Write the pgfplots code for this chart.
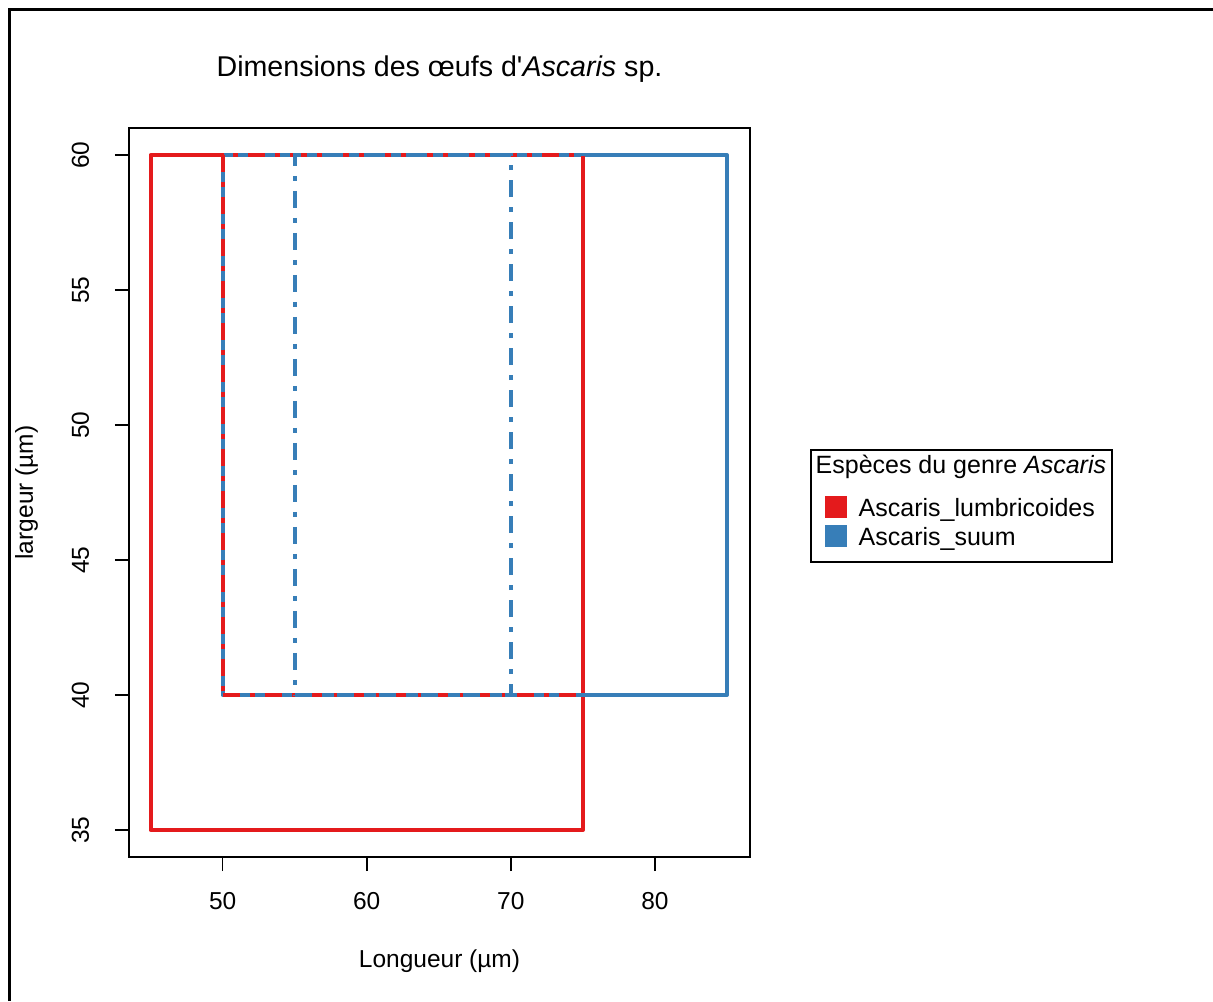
\documentclass[border=0pt]{standalone}
\usepackage{pgfplots}
\pgfplotsset{compat=1.18}
\usepackage{fontspec}
\setmainfont{Liberation Sans}
\definecolor{setred}{HTML}{E41A1C}
\definecolor{setblue}{HTML}{377EB8}
\newcommand{\basefont}{\fontsize{12.25}{14}\selectfont}
\newcommand{\legfont}{\fontsize{12.5}{14}\selectfont}
\begin{document}
\begin{tikzpicture}
\useasboundingbox (-64.5pt,-72pt) rectangle (542pt,428.5pt);
\draw[line width=1.25pt] (-59.75pt,-72pt) -- (-59.75pt,423.75pt) -- (542pt,423.75pt);
\begin{axis}[
  at={(0pt,0pt)}, anchor=south west,
  scale only axis, width=310.5pt, height=364.5pt,
  xmin=43.5, xmax=86.6, ymin=34, ymax=61,
  xtick={50,60,70,80}, ytick={35,40,45,50,55,60},
  axis line style={line width=0.9pt},
  tick align=outside, xtick pos=bottom, ytick pos=left,
  major tick length=7pt,
  every tick/.style={black, line width=0.8pt},
  /pgf/number format/assume math mode=true,
  tick label style={font=\basefont},
  xticklabel style={anchor=base},
  xticklabel shift=19pt,
  yticklabel style={rotate=90, anchor=base},
  yticklabel shift=13pt,
  title={Dimensions des œufs d\textquotesingle\textit{Ascaris} sp.},
  title style={font=\fontsize{14.3}{17}\selectfont, at={(0.5,1)}, anchor=base, yshift=19.5pt},
  xlabel={Longueur (µm)},
  xlabel style={font=\basefont, at={(0.5,-0.1509)}, anchor=base},
  ylabel={largeur (µm)},
  ylabel style={font=\basefont, at={(-0.1546,0.5)}, anchor=base},
  legend cell align=left,
  legend style={at={(1.0966,0.5597)}, anchor=north west, draw=black, line width=0.9pt,
    font=\legfont, inner xsep=7pt, inner ysep=1pt, row sep=0pt, column sep=6pt,
    nodes={inner sep=0pt, text depth=}, cells={anchor=base west}},
]
\addplot[setred, line width=2pt, line join=round, forget plot] coordinates {(45,35) (75,35) (75,60) (45,60)} -- cycle;
\addplot[setblue, line width=2pt, line join=round, forget plot] coordinates {(50,40) (85,40) (85,60) (50,60)} -- cycle;
\addplot[setred, line width=2pt, dash pattern=on 8.5pt off 5pt on 2.5pt off 5pt, forget plot] coordinates {(50,40) (75,40) (75,60) (50,60)} -- cycle;
\addplot[setblue, line width=2pt, dash pattern=on 8.5pt off 5pt on 2.5pt off 5pt, forget plot] coordinates {(55,40) (70,40) (70,60) (55,60)} -- cycle;
\addlegendimage{empty legend}
\addlegendentry{\hspace*{-21.5pt}\rule[-11pt]{0pt}{22pt}Espèces du genre \textit{Ascaris}\hspace*{-4pt}}
\addlegendimage{legend image code/.code={\fill[setred] (0pt,0pt) rectangle (10pt,10pt);}}
\addlegendentry{\rule[-4pt]{0pt}{14pt}Ascaris\_lumbricoides}
\addlegendimage{legend image code/.code={\fill[setblue] (0pt,0pt) rectangle (10pt,10pt);}}
\addlegendentry{\rule[-7pt]{0pt}{17pt}Ascaris\_suum}
\end{axis}
\end{tikzpicture}
\end{document}
